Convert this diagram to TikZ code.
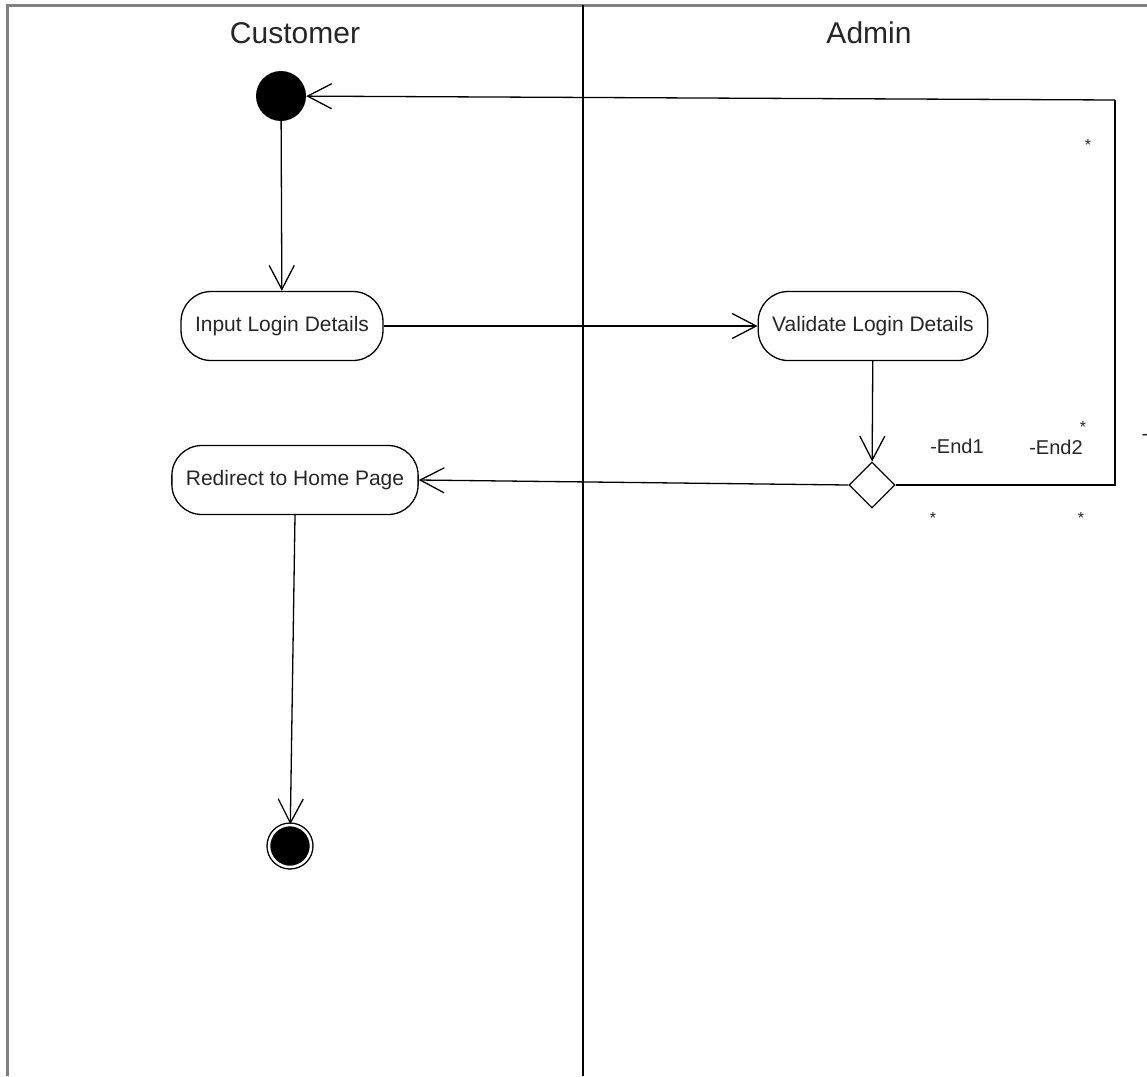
\documentclass[tikz,border=0pt]{standalone}
\usepackage{fontspec}
\setmainfont{Liberation Sans}
\usetikzlibrary{arrows.meta,shapes.geometric}

\tikzset{
  lane/.style={line width=1.4pt},
  frameline/.style={line width=3pt, draw=black!50},
  lanetitle/.style={font=\fontsize{30}{34}\selectfont, text=black!85},
  action/.style={draw, line width=1.3pt, rounded corners=30pt,
    minimum height=69pt, inner xsep=14pt,
    font=\fontsize{21}{25}\selectfont, text=black!85},
  flow/.style={line width=1.3pt, -{Straight Barb[length=24pt, width=25pt, line width=1.3pt]}},
  plain/.style={line width=1.3pt},
  startstate/.style={circle, fill=black, minimum size=50pt, inner sep=0pt},
  endstate/.style={circle, draw, line width=1.4pt, fill=black, minimum size=42pt,
    inner sep=0pt, double=white, double distance=2.5pt},
  decision/.style={diamond, draw, line width=1.3pt, minimum size=46pt,
    inner sep=0pt, aspect=1},
  endlabel/.style={font=\fontsize{20}{24}\selectfont, text=black!85},
  mult/.style={font=\fontsize{16}{18}\selectfont, text=black!85}
}

\begin{document}
\begin{tikzpicture}[x=1pt, y=-1pt]
\useasboundingbox (0,0) rectangle (1147,1076);

% swimlane frame and divider
\draw[frameline] (7,1076) -- (7,5) -- (1147,5);
\draw[lane] (583,5) -- (583,1076);
\node[lanetitle] (tcust) at (295,33) {Customer};
\node[lanetitle] (tadmin) at (869,33) {Admin};

% states and actions
\node[startstate] (init) at (281,96) {};
\node[action] (input) at (282,326) {Input Login Details};
\node[action] (validate) at (873,326) {Validate Login Details};
\node[decision] (check) at (872,485) {};
\node[action] (redirect) at (295,480) {Redirect to Home Page};
\node[endstate] (final) at (290,846) {};

% loop-back corner points
\coordinate (cA) at (1115,485);
\coordinate (cB) at (1115,100);

% transitions
\draw[flow] (init) -- (input);
\draw[flow] (input) -- (validate);
\draw[flow] (validate) -- (check);
\draw[flow] (check.west) -- (redirect.east);
\draw[plain] (check.east) -- (cA) -- (cB);
\draw[flow] (cB) -- (init);
\draw[flow] (redirect.south) -- (final);

% association end labels
\node[endlabel] (e1) at (957,446) {-End1};
\node[endlabel] (e2) at (1056,447) {-End2};
\node[endlabel, anchor=west] (e3) at (1138,437) {-};
\node[mult] (m1) at (1088,145) {*};
\node[mult] (m2) at (1083,427) {*};
\node[mult] (m3) at (933,518) {*};
\node[mult] (m4) at (1081,518) {*};
\end{tikzpicture}
\end{document}
